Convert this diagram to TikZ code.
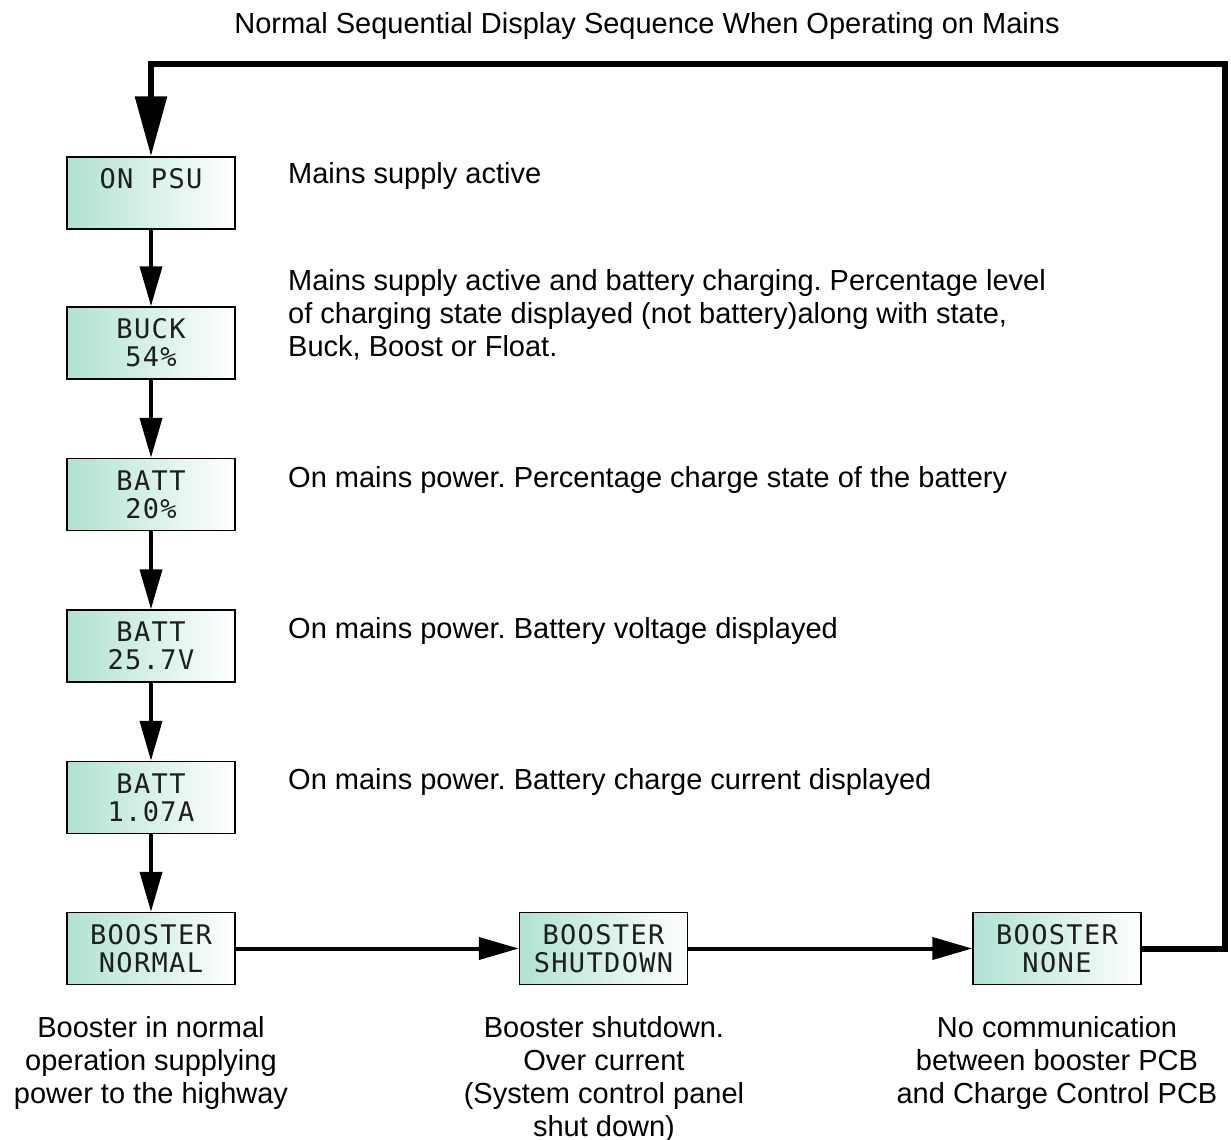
\documentclass[tikz,border=0pt]{standalone}
\usepackage{fontspec}
\setmainfont{Liberation Sans}
\newfontfamily\lcdfont[LetterSpace=5]{DejaVu Sans Mono}
\usetikzlibrary{arrows.meta}
\definecolor{lcdteal}{RGB}{176,226,212}
\definecolor{lcdtext}{RGB}{30,30,30}
\begin{document}
\frenchspacing
\begin{tikzpicture}[x=1pt,y=-1pt,
  lcdbox/.style={draw=black, line width=1.5pt, left color=lcdteal, right color=white,
    minimum width=168pt, minimum height=72pt, inner sep=0pt, align=center,
    font=\lcdfont\fontsize{27}{28}\selectfont, text=lcdtext},
  desc/.style={anchor=north west, inner sep=0pt, align=left, font=\fontsize{29}{33}\selectfont},
  under/.style={anchor=north, inner sep=0pt, align=center, font=\fontsize{29}{33}\selectfont},
  flow/.style={line width=4pt, -{Triangle[length=40pt,width=22pt]}},
  loop/.style={line width=6pt, line join=miter, -{Triangle[length=60pt,width=31pt]}}
]
\useasboundingbox (0,0) rectangle (1231,1140);

\node[anchor=north, inner sep=0pt, font=\fontsize{29}{33}\selectfont] (title) at (647,12)
  {Normal Sequential Display Sequence When Operating on Mains};

% boxes
\node[lcdbox] (psu)   at (151,193) {ON PSU\\\phantom{0}};
\node[lcdbox] (buck)  at (151,343) {BUCK\\54\%};
\node[lcdbox] (bpct)  at (151,494.5) {BATT\\20\%};
\node[lcdbox] (bvolt) at (151,646) {BATT\\25.7V};
\node[lcdbox] (bamp)  at (151,797.5) {BATT\\1.07A};
\node[lcdbox] (bnorm) at (151,948.5) {BOOSTER\\NORMAL};
\node[lcdbox] (bshut) at (603.5,948.5) {BOOSTER\\SHUTDOWN};
\node[lcdbox] (bnone) at (1057,948.5) {BOOSTER\\NONE};

% connectors
\draw[flow] (psu.south) -- (buck.north);
\draw[flow] (buck.south) -- (bpct.north);
\draw[flow] (bpct.south) -- (bvolt.north);
\draw[flow] (bvolt.south) -- (bamp.north);
\draw[flow] (bamp.south) -- (bnorm.north);
\draw[flow] (bnorm.east) -- (bshut.west);
\draw[flow] (bshut.east) -- (bnone.west);
\coordinate (c1) at (1225,948.5);
\coordinate (c2) at (1225,64);
\coordinate (c3) at (151,64);
\draw[loop] (bnone.east) -- (c1) -- (c2) -- (c3) -- (psu.north);

% descriptions
\node[desc] (d1) at (288,162) {Mains supply active};
\node[desc] (d2) at (288,269) {Mains supply active and battery charging. Percentage level\\of charging state displayed (not battery)along with state,\\Buck, Boost or Float.};
\node[desc] (d3) at (288,466) {On mains power. Percentage charge state of the battery};
\node[desc] (d4) at (288,617) {On mains power. Battery voltage displayed};
\node[desc] (d5) at (288,768) {On mains power. Battery charge current displayed};

\node[under] (u1) at (151,1016) {Booster in normal\\operation supplying\\power to the highway};
\node[under] (u2) at (604,1016) {Booster shutdown.\\Over current\\(System control panel\\shut down)};
\node[under] (u3) at (1057,1016) {No communication\\between booster PCB\\and Charge Control PCB};
\end{tikzpicture}
\end{document}
